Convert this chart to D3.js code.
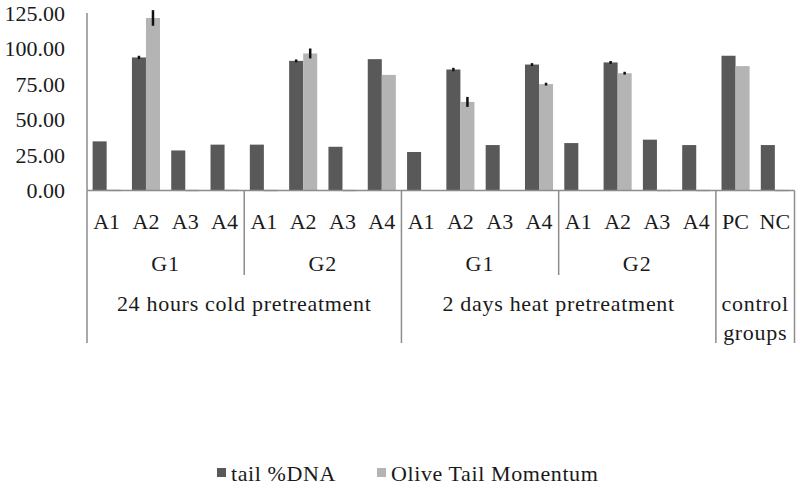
<!DOCTYPE html>
<html>
<head>
<meta charset="utf-8">
<script src="https://cdn.jsdelivr.net/npm/d3@7"></script>
<style>
  body { margin: 0; background: #fff; }
  svg text { fill: #1a1a1a; }
</style>
</head>
<body>
<div id="chart"></div>
<script>
// sample labels, one per bar pair
const samples = ["A1","A2","A3","A4","A1","A2","A3","A4","A1","A2","A3","A4","A1","A2","A3","A4","PC","NC"];
// G1 / G2 sub-groups (start index, count)
const subGroups = [
  { label: "G1", start: 0, n: 4 },
  { label: "G2", start: 4, n: 4 },
  { label: "G1", start: 8, n: 4 },
  { label: "G2", start: 12, n: 4 }
];
// treatment groups
const treatments = [
  { label: ["24 hours cold pretreatment"], start: 0, n: 8 },
  { label: ["2 days heat pretreatment"], start: 8, n: 8 },
  { label: ["control", "groups"], start: 16, n: 2 }
];
const seriesNames = ["tail %DNA", "Olive Tail Momentum"];
const tailDNA =     [34.6, 93.7, 28.2, 32.3, 32.3, 91.3, 30.8, 92.5, 27.1, 85.2, 32.0, 88.7, 33.4, 90.2, 35.8, 32.0, 94.9, 32.0];
const tailDNAErr =  [0, 1.2, 0, 0, 0, 1.0, 0, 0, 0, 1.2, 0, 1.0, 0, 1.0, 0, 0, 0, 0];
const olive =       [0.6, 121.5, 0.5, 0.6, 0.5, 96.5, 0.5, 81.4, 0, 62.4, 0, 74.9, 0, 82.6, 0.5, 0.5, 87.6, 0.5];
const oliveErr =    [0, 5.5, 0, 0, 0, 3.5, 0, 0, 0, 3.5, 0, 1.0, 0, 1.0, 0, 0, 0, 0];
const yTicks = [0, 25, 50, 75, 100, 125];

const colors = ["#595959", "#b4b4b4"];
const W = 800, H = 489;
const FONT = "'Liberation Serif', 'Times New Roman', 'DejaVu Serif', serif";

const svg = d3.select("#chart").append("svg")
  .attr("width", W).attr("height", H)
  .attr("font-family", FONT);

const x = d3.scaleBand().domain(d3.range(samples.length)).range([87, 794.5]).paddingInner(0).paddingOuter(0);
const xs = d3.scaleBand().domain([0, 1]).range([0, x.bandwidth()]).paddingInner(0).paddingOuter(0.4);
const y = d3.scaleLinear().domain([0, 125]).range([190.5, 13]);

const rows = samples.map((s, i) => [
  { i, k: 0, v: tailDNA[i], e: tailDNAErr[i] },
  { i, k: 1, v: olive[i], e: oliveErr[i] }
]);

// y tick labels
svg.append("g").selectAll("text").data(yTicks).join("text")
  .attr("x", 65).attr("y", d => y(d)).attr("dy", "0.35em")
  .attr("text-anchor", "end").attr("font-size", 22)
  .text(d => d3.format(".2f")(d));

// bars
const g = svg.append("g");
g.selectAll("g").data(rows).join("g")
  .attr("transform", d => `translate(${x(d[0].i)},0)`)
  .selectAll("rect").data(d => d).join("rect")
  .attr("x", d => xs(d.k)).attr("width", xs.bandwidth())
  .attr("y", d => y(d.v)).attr("height", d => Math.max(y(0) - y(d.v), d.v > 0 ? 1.5 : 0))
  .attr("fill", d => colors[d.k]);

// error bars
const errs = rows.flat().filter(d => d.e > 0);
svg.append("g").selectAll("line").data(errs).join("line")
  .attr("x1", d => x(d.i) + xs(d.k) + xs.bandwidth() / 2)
  .attr("x2", d => x(d.i) + xs(d.k) + xs.bandwidth() / 2)
  .attr("y1", d => y(d.v + d.e)).attr("y2", d => y(d.v - d.e))
  .attr("stroke", "#111").attr("stroke-width", 2.5);

// axes lines
const axisCol = "#8c8c8c";
svg.append("line").attr("x1", x.range()[0]).attr("x2", x.range()[1])
  .attr("y1", y(0)).attr("y2", y(0)).attr("stroke", axisCol).attr("stroke-width", 1.5);
svg.append("line").attr("x1", x.range()[0]).attr("x2", x.range()[0])
  .attr("y1", y(125)).attr("y2", y(0)).attr("stroke", axisCol).attr("stroke-width", 1.5);

// separators
const bounds = [0, 8, 16, 18];
svg.append("g").selectAll("line").data(bounds).join("line")
  .attr("x1", d => d < samples.length ? x(d) : x.range()[1])
  .attr("x2", d => d < samples.length ? x(d) : x.range()[1])
  .attr("y1", y(0)).attr("y2", 343)
  .attr("stroke", axisCol).attr("stroke-width", 1.5);
svg.append("g").selectAll("line").data([4, 12]).join("line")
  .attr("x1", d => x(d)).attr("x2", d => x(d))
  .attr("y1", y(0)).attr("y2", 275)
  .attr("stroke", axisCol).attr("stroke-width", 1.5);

// sample labels
svg.append("g").selectAll("text").data(samples).join("text")
  .attr("x", (d, i) => x(i) + x.bandwidth() / 2).attr("y", 221).attr("dy", "0.35em")
  .attr("text-anchor", "middle").attr("font-size", 22)
  .text(d => d);

// subgroup labels
svg.append("g").selectAll("text").data(subGroups).join("text")
  .attr("x", d => x(d.start) + d.n * x.bandwidth() / 2).attr("y", 263).attr("dy", "0.35em")
  .attr("text-anchor", "middle").attr("font-size", 22).attr("letter-spacing", 1)
  .text(d => d.label);

// treatment labels
svg.append("g").selectAll("text").data(treatments).join("text")
  .attr("text-anchor", "middle").attr("font-size", 22).attr("letter-spacing", 0.7)
  .each(function (d) {
    const cx = x(d.start) + d.n * x.bandwidth() / 2;
    d3.select(this).selectAll("tspan").data(d.label).join("tspan")
      .attr("x", cx).attr("y", (t, j) => 303 + j * 29).attr("dy", "0.35em")
      .text(t => t);
  });

// legend
const legend = svg.append("g").attr("transform", "translate(0,473)");
const legX = [217, 377];
seriesNames.forEach((s, k) => {
  legend.append("rect").attr("x", legX[k]).attr("y", -5).attr("width", 9).attr("height", 9)
    .attr("fill", colors[k]);
  legend.append("text").attr("x", legX[k] + 14).attr("y", 0).attr("dy", "0.35em")
    .attr("font-size", 22).attr("letter-spacing", 0.6).text(s);
});
</script>
</body>
</html>
